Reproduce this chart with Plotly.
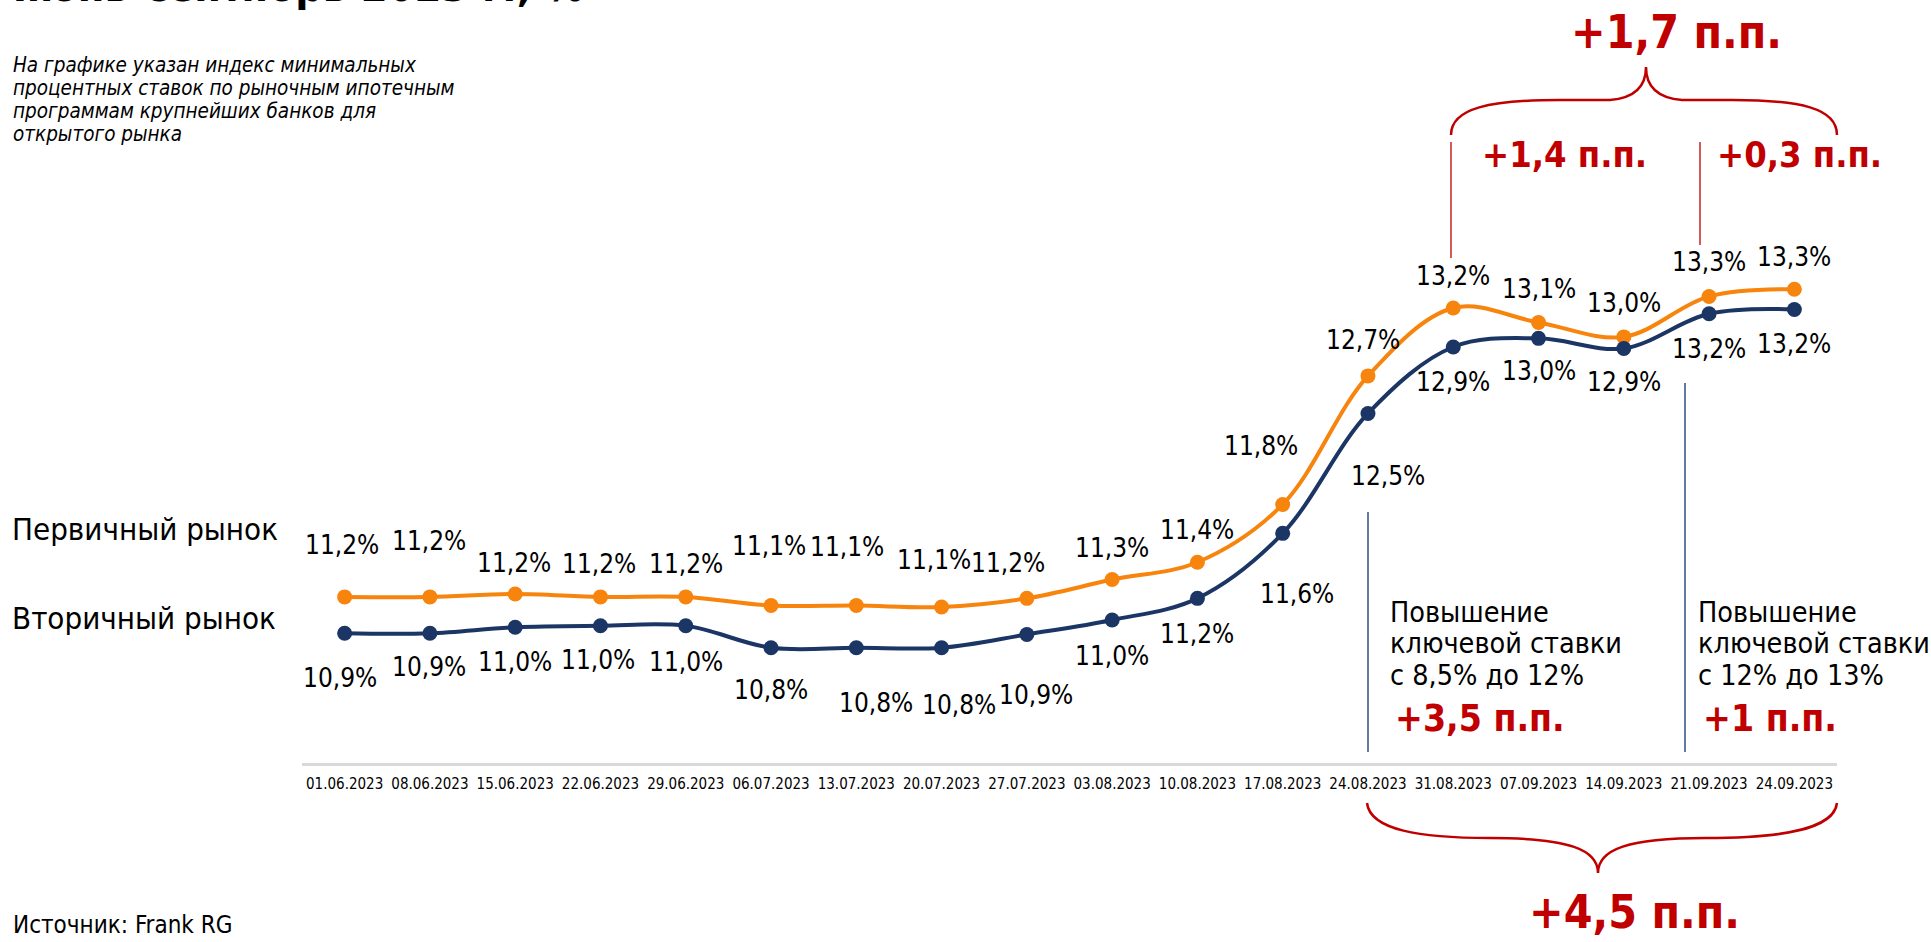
import plotly.graph_objects as go

# ---------------- data ----------------
DATES = ["01.06.2023", "08.06.2023", "15.06.2023", "22.06.2023", "29.06.2023",
         "06.07.2023", "13.07.2023", "20.07.2023", "27.07.2023", "03.08.2023",
         "10.08.2023", "17.08.2023", "24.08.2023", "31.08.2023", "07.09.2023",
         "14.09.2023", "21.09.2023", "24.09.2023"]
PRIMARY = [11.20, 11.20, 11.22, 11.20, 11.20, 11.14, 11.14, 11.13, 11.19, 11.32,
           11.44, 11.84, 12.73, 13.20, 13.10, 13.00, 13.28, 13.33]
SECONDARY = [10.948, 10.948, 10.99, 11.00, 11.00, 10.848, 10.848, 10.848, 10.94, 11.04,
             11.19, 11.64, 12.47, 12.93, 12.99, 12.92, 13.16, 13.19]
SERIES_NAMES = ["Первичный рынок", "Вторичный рынок"]

TITLE = "июнь-сентябрь 2023 г., %"
SUBTITLE = ["На графике указан индекс минимальных",
            "процентных ставок по рыночным ипотечным",
            "программам крупнейших банков для",
            "открытого рынка"]
HIKE_TEXTS = [["Повышение", "ключевой ставки", "с 8,5% до 12%"],
              ["Повышение", "ключевой ставки", "с 12% до 13%"]]
HIKE_DELTAS = ["+3,5 п.п.", "+1 п.п."]
TOP_DELTAS = ["+1,7 п.п.", "+1,4 п.п.", "+0,3 п.п."]
BOTTOM_DELTA = "+4,5 п.п."
SOURCE = "Источник: Frank RG"

# ---------------- styling / layout ----------------
ORANGE = "#F7840C"
NAVY = "#1B3564"
RED = "#C00000"
VLINE = "#3A5A8C"
FONT = "DejaVu Sans Condensed, DejaVu Sans"

W, H = 1931, 942
PL, PR, PT, PB = 302, 1837, 100, 763
PW, PH = PR - PL, PB - PT
Y_RANGE = [10.05, 14.64]


def px(x):
    return (x - PL) / PW


def py(y):
    return (PB - y) / PH


def fmt(v):
    return f"{v:.1f}".replace(".", ",") + "%"


# label offsets (pixels, +dy = down)
P_DX = [-3, -1, -1, -1, 0, -2, -9, -8, -19, 0, 0, -22, -5, 0, 0, 0, 0, 0]
P_DY = [-52, -56, -31, -33, -33, -60, -59, -47, -35, -32, -32, -58, -36, -32, -33, -34, -34, -32]
S_DX = [-5, -1, 0, -2, 0, 0, 20, 17, 9, 0, 0, 14, 20, 0, 0, 0, 0, 0]
S_DY = [45, 34, 35, 34, 36, 42, 55, 57, 61, 36, 36, 61, 63, 35, 33, 34, 35, 35]

fig = go.Figure()
for vals, col, name in [(PRIMARY, ORANGE, SERIES_NAMES[0]), (SECONDARY, NAVY, SERIES_NAMES[1])]:
    fig.add_trace(go.Scatter(
        x=DATES, y=vals, name=name, mode="lines+markers",
        line=dict(color=col, width=4, shape="spline", smoothing=1.0),
        marker=dict(size=15, color=col),
        hoverinfo="skip",
    ))

ann = []
for i, d in enumerate(DATES):
    ann.append(dict(x=d, y=PRIMARY[i], xref="x", yref="y", text=fmt(PRIMARY[i]),
                    showarrow=False, xshift=P_DX[i], yshift=-P_DY[i],
                    font=dict(family=FONT, size=26, color="#000000")))
    ann.append(dict(x=d, y=SECONDARY[i], xref="x", yref="y", text=fmt(SECONDARY[i]),
                    showarrow=False, xshift=S_DX[i], yshift=-S_DY[i],
                    font=dict(family=FONT, size=26, color="#000000")))


def text(x, y, t, size, color="#000000", xanchor="left", yanchor="middle", bold=False, italic=False):
    if bold:
        t = "<b>" + t + "</b>"
    if italic:
        t = "<i>" + t + "</i>"
    ann.append(dict(x=px(x), y=py(y), xref="paper", yref="paper", text=t, showarrow=False,
                    xanchor=xanchor, yanchor=yanchor, align="left",
                    font=dict(family=FONT, size=size, color=color)))


def lines(x, y0, step, rows, size, **kw):
    for k, r in enumerate(rows):
        text(x, y0 + k * step, r, size, **kw)


text(11, 13, TITLE, 43, yanchor="bottom", bold=True)
lines(11, 65, 23.1, SUBTITLE, 20.5, italic=True)
text(10, 529, SERIES_NAMES[0], 31)
text(10, 618, SERIES_NAMES[1], 31)
lines(1388, 612, 31.5, HIKE_TEXTS[0], 28.5)
lines(1696, 612, 31.5, HIKE_TEXTS[1], 28.5)
text(1393, 718, HIKE_DELTAS[0], 37, RED, bold=True)
text(1701, 718, HIKE_DELTAS[1], 37, RED, bold=True)
text(1676, 32, TOP_DELTAS[0], 46, RED, xanchor="center", bold=True)
text(1564, 154, TOP_DELTAS[1], 36, RED, xanchor="center", bold=True)
text(1799, 154, TOP_DELTAS[2], 36, RED, xanchor="center", bold=True)
text(1634, 912, BOTTOM_DELTA, 46, RED, xanchor="center", bold=True)
text(11, 925, SOURCE, 24)


def path(cmds):
    out = []
    for c, pts in cmds:
        out.append(c + " " + " ".join(f"{px(x):.5f},{py(y):.5f}" for x, y in pts))
    return " ".join(out)


shapes = []
top_brace = path([
    ("M", [(1451, 135)]),
    ("C", [(1451, 108), (1490, 100), (1560, 100)]),
    ("L", [(1610, 100)]),
    ("C", [(1635, 98), (1646, 86), (1646, 67)]),
    ("C", [(1646, 86), (1657, 98), (1682, 100)]),
    ("L", [(1732, 100)]),
    ("C", [(1800, 100), (1837, 108), (1837, 135)]),
])
bottom_brace = path([
    ("M", [(1367, 803)]),
    ("C", [(1370, 830), (1420, 838), (1490, 838)]),
    ("C", [(1570, 838), (1598, 850), (1598, 873)]),
    ("C", [(1598, 850), (1626, 838), (1706, 838)]),
    ("C", [(1780, 838), (1834, 830), (1837, 803)]),
])
for p in (top_brace, bottom_brace):
    shapes.append(dict(type="path", path=p, xref="paper", yref="paper",
                       line=dict(color=RED, width=2.5)))

for x, y0, y1 in [(1451, 142, 258), (1700, 142, 245)]:
    shapes.append(dict(type="line", xref="paper", yref="paper", x0=px(x), x1=px(x),
                       y0=py(y0), y1=py(y1), line=dict(color=RED, width=1.3)))
for x, y0, y1 in [(1368, 512, 752), (1685, 383, 752)]:
    shapes.append(dict(type="line", xref="paper", yref="paper", x0=px(x), x1=px(x),
                       y0=py(y0), y1=py(y1), line=dict(color=VLINE, width=1.6)))

fig.update_layout(
    width=W, height=H,
    margin=dict(l=PL, r=W - PR, t=PT, b=H - PB, pad=0),
    paper_bgcolor="white", plot_bgcolor="white",
    showlegend=False,
    annotations=ann, shapes=shapes,
    font=dict(family=FONT, color="#000000"),
    xaxis=dict(type="category", range=[-0.5, len(DATES) - 0.5], showgrid=False,
               zeroline=False, showline=True, linecolor="#D9D9D9", linewidth=3,
               ticks="", tickangle=0, tickfont=dict(family=FONT, size=15, color="#000000"),
               ticklabelstandoff=5),
    yaxis=dict(range=Y_RANGE, visible=False, showgrid=False, zeroline=False),
)

fig.write_html("out.html", config={"displayModeBar": False},
               post_script="document.body.style.margin='0';document.body.style.overflow='hidden';")
